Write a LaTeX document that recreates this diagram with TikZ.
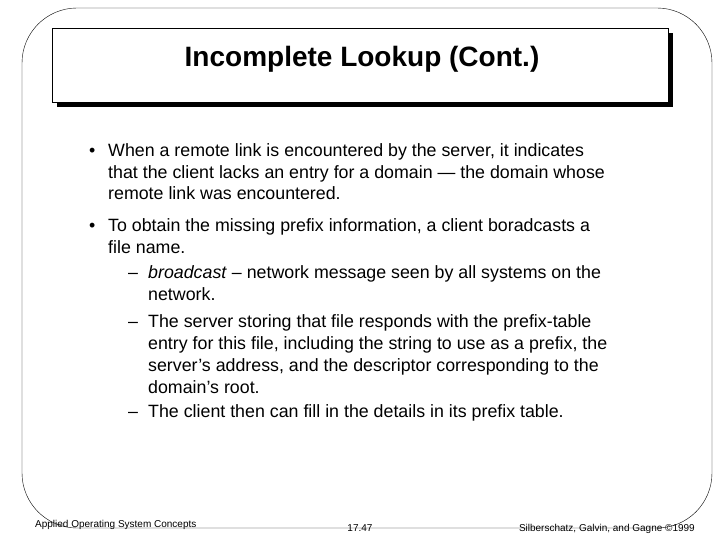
\documentclass[tikz,border=0pt]{standalone}
\usepackage{fontspec}
\setmainfont{Liberation Sans}
\tikzset{
  line/.style={anchor=base west,inner sep=0pt,font=\fontsize{17.8}{21}\selectfont},
  foot/.style={anchor=base,inner sep=0pt,font=\fontsize{10}{12}\selectfont}
}
\begin{document}
\begin{tikzpicture}[x=1pt,y=-1pt]
  \useasboundingbox (0,0) rectangle (720,540);
  \draw[rounded corners=55pt] (22,8) rectangle (712,528);
  \fill (57,33) rectangle (673,107);
  \draw[fill=white] (52,28) rectangle (668,102);
  \node[anchor=base,inner sep=0pt,font=\bfseries\fontsize{28}{32}\selectfont] (title) at (362,67) {Incomplete Lookup (Cont.)};
  % first bullet
  \node[line] (b1) at (89,157) {\textbullet};
  \node[line] (l1) at (108,157) {When a remote link is encountered by the server, it indicates};
  \node[line] (l2) at (108,179) {that the client lacks an entry for a domain --- the domain whose};
  \node[line] (l3) at (108,200) {remote link was encountered.};
  % second bullet
  \node[line] (b2) at (89,232) {\textbullet};
  \node[line] (l4) at (108,232) {To obtain the missing prefix information, a client boradcasts a};
  \node[line] (l5) at (108,254) {file name.};
  \node[line] (d1) at (128,278) {--};
  \node[line] (l6) at (148,278) {\textit{broadcast} -- network message seen by all systems on the};
  \node[line] (l7) at (148,300) {network.};
  \node[line] (d2) at (128,327) {--};
  \node[line] (l8) at (148,327) {The server storing that file responds with the prefix-table};
  \node[line] (l9) at (148,349) {entry for this file, including the string to use as a prefix, the};
  \node[line] (l10) at (148,371) {server's address, and the descriptor corresponding to the};
  \node[line] (l11) at (148,393) {domain's root.};
  \node[line] (d3) at (128,417) {--};
  \node[line] (l12) at (148,417) {The client then can fill in the details in its prefix table.};
  % footer
  \node[foot,anchor=base west] (f1) at (35,527) {Applied Operating System Concepts};
  \node[foot] (f2) at (360,531) {17.47};
  \node[foot,anchor=base east] (f3) at (695,531) {Silberschatz, Galvin, and Gagne \textcopyright1999};
\end{tikzpicture}
\end{document}
